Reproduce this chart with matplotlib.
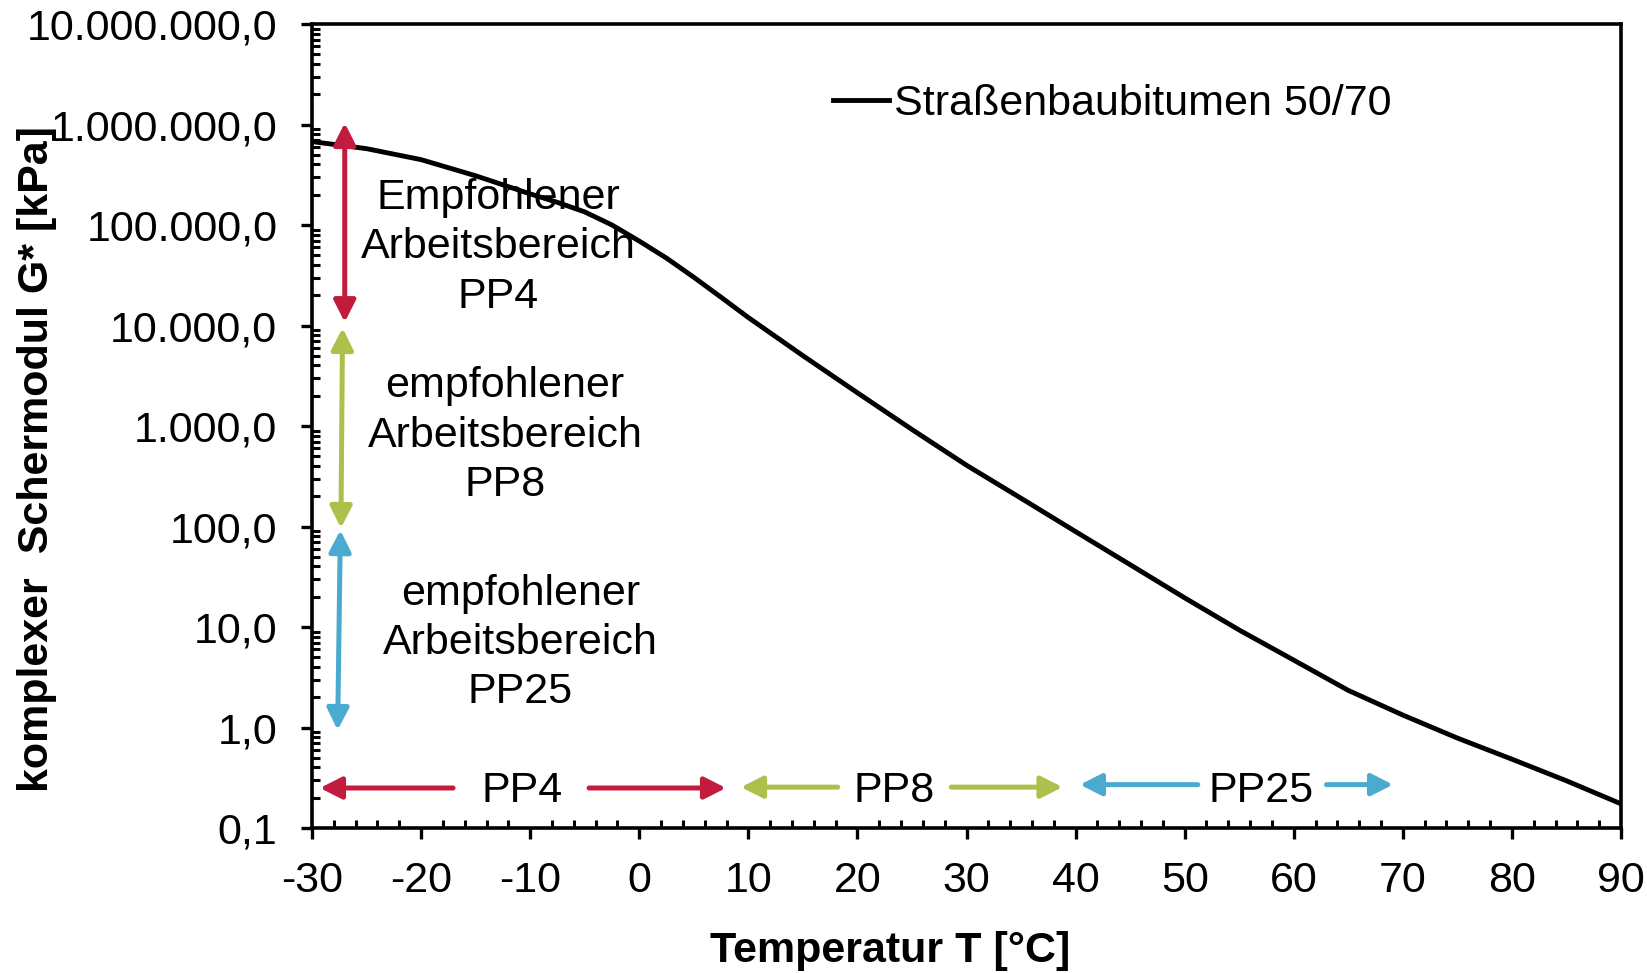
import matplotlib
matplotlib.use("Agg")
import matplotlib.pyplot as plt
from matplotlib.ticker import FixedLocator, FuncFormatter, LogLocator, MultipleLocator

plt.rcParams['font.family'] = ['Liberation Sans', 'DejaVu Sans']
plt.rcParams['axes.unicode_minus'] = False

# Straßenbaubitumen 50/70: |G*| in kPa over temperature
temp = [-30, -25, -20, -15, -10, -7.5, -5, -2.5, 0, 2.5, 5, 7.5, 10,
        15, 20, 25, 30, 35, 40, 45, 50, 55, 60, 65, 70, 75, 80, 85, 90]
g_star = [676000, 575000, 447000, 309000, 204000, 168000, 135000, 100000,
          69200, 46800, 30200, 19100, 12000, 5010, 2140, 923, 407, 191, 89,
          41.7, 19.5, 9.33, 4.68, 2.34, 1.33, 0.785, 0.484, 0.295, 0.174]

series_label = "Straßenbaubitumen 50/70"
plates = ["PP4", "PP8", "PP25"]
plate_colors = ['#C11B3E', '#ADC04B', '#4BAACF']

# vertical ranges (G* limits) and the text beside them
g_ranges = [(1.035e6, 1.08e4), (9440, 96.6), (92, 0.944)]
g_range_x = [(-27.0, -27.0), (-27.2, -27.35), (-27.4, -27.65)]
g_range_text = ["Empfohlener\nArbeitsbereich\nPP4",
                "empfohlener\nArbeitsbereich\nPP8",
                "empfohlener\nArbeitsbereich\nPP25"]
g_text_pos = [(-12.9, 6.0e4), (-12.3, 800), (-10.9, 6.9)]

# temperature ranges: tip, gap start, label, gap end, tip
t_ranges = [(-29.27, -17.07, -10.78, -4.6, 7.95),
            (9.33, 18.2, 23.4, 28.6, 38.8),
            (40.4, 51.2, 57.0, 63.0, 69.1)]
t_range_y = [0.25, 0.255, 0.27]
t_label_y = 0.235

fig = plt.figure(figsize=(16.47, 9.73), dpi=100)
ax = fig.add_axes([0.18944, 0.14902, 0.79478, 0.82631])

ax.plot(temp, g_star, color='black', lw=3.5, label=series_label, zorder=3)

ax.set_yscale('log')
ax.set_xlim(-30, 90)
ax.set_ylim(0.1, 1e7)

ax.xaxis.set_major_locator(MultipleLocator(10))
ax.xaxis.set_minor_locator(MultipleLocator(2))
ax.yaxis.set_major_locator(FixedLocator([10.0 ** k for k in range(-1, 8)]))
ax.yaxis.set_minor_locator(LogLocator(base=10, subs=range(2, 10), numticks=20))


def german(v, pos):
    s = f"{v:,.1f}"
    return s.replace(',', 'X').replace('.', ',').replace('X', '.')


ax.yaxis.set_major_formatter(FuncFormatter(german))
ax.yaxis.set_minor_formatter(FuncFormatter(lambda v, p: ""))

fs = 31
for s in ax.spines.values():
    s.set_linewidth(2.6)
ax.tick_params(which='major', direction='out', length=8, width=2.4, labelsize=fs)
ax.tick_params(which='minor', direction='in', length=6, width=2.2)
ax.tick_params(axis='y', which='major', pad=17)
ax.tick_params(axis='x', which='major', pad=16)

ax.set_xlabel("Temperatur T [°C]", fontsize=fs, fontweight='bold', va='center')
ax.xaxis.set_label_coords(0.442, -0.153)
ax.set_ylabel("komplexer  Schermodul G* [kPa]", fontsize=fs, fontweight='bold',
              va='center')
ax.yaxis.set_label_coords(-0.210, 0.459)

# vertical G* ranges
for (top, bot), (xt, xb), c in zip(g_ranges, g_range_x, plate_colors):
    ax.annotate("", xy=(xt, top), xytext=(xb, bot),
                arrowprops=dict(arrowstyle="<|-|>,head_length=0.65,head_width=0.33",
                                color=c, lw=3.6, mutation_scale=20,
                                shrinkA=0, shrinkB=0))

for txt, (tx, ty) in zip(g_range_text, g_text_pos):
    ax.text(tx, ty, txt, fontsize=fs, ha='center', va='center',
            linespacing=1.3, zorder=2)

# horizontal temperature ranges
for (t0, t1, tm, t2, t3), y, name, c in zip(t_ranges, t_range_y, plates, plate_colors):
    style = dict(arrowstyle="-|>,head_length=0.65,head_width=0.33",
                 color=c, lw=3.6, mutation_scale=20, shrinkA=0, shrinkB=0)
    ax.annotate("", xy=(t0, y), xytext=(t1, y), arrowprops=style)
    ax.annotate("", xy=(t3, y), xytext=(t2, y), arrowprops=style)
    ax.text(tm, t_label_y, name, fontsize=fs, ha='center', va='center')

ax.legend(loc='center left', bbox_to_anchor=(0.398, 0.9), frameon=False,
          fontsize=fs, borderpad=0, borderaxespad=0, handlelength=1.3,
          handletextpad=0.12)

fig.savefig("out.png", dpi=100)
